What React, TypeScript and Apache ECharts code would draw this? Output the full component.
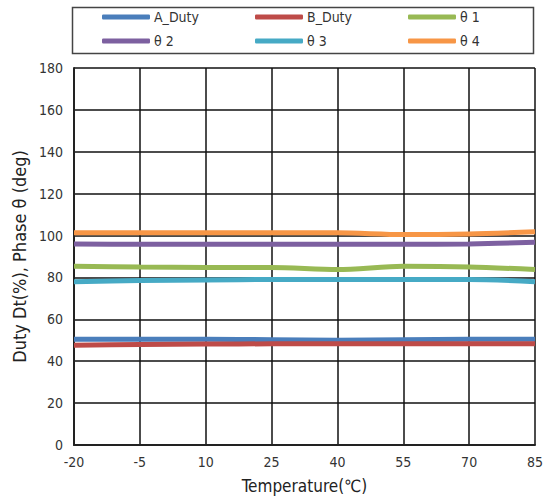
import React, { useEffect, useRef } from "react";
import * as echarts from "echarts";

const categories = ["-20", "-5", "10", "25", "40", "55", "70", "85"];
const aDuty = [50.5, 50.5, 50.5, 50.3, 50, 50.3, 50.5, 50.5];
const bDuty = [47.6, 48, 48.2, 48.3, 48.3, 48.3, 48.3, 48.3];
const theta1 = [85.4, 85, 84.8, 84.8, 83.8, 85.3, 85, 83.8];
const theta2 = [96, 95.8, 95.8, 95.8, 95.8, 95.8, 96, 96.8];
const theta3 = [78, 78.5, 78.8, 79, 79, 79, 79, 78];
const theta4 = [101.3, 101.3, 101.3, 101.3, 101.3, 100.5, 100.8, 101.8];

const seriesNames = ["A_Duty", "B_Duty", "θ 1", "θ 2", "θ 3", "θ 4"];
const seriesData = [aDuty, bDuty, theta1, theta2, theta3, theta4];
const colors = ["#4a7ebb", "#be4b48", "#98b954", "#7d60a0", "#46aac5", "#f79646"];

const FONT = "'DejaVu Sans Condensed', 'Liberation Sans Narrow', 'Liberation Sans', sans-serif";

export default function App() {
  const ref = useRef<HTMLDivElement>(null);
  useEffect(() => {
    if (!ref.current) return;
    const chart = echarts.init(ref.current, null, { renderer: "svg" });
    const legendPos = [
      [102, 10], [255, 10], [408, 10],
      [102, 34], [255, 34], [408, 34],
    ];
    chart.setOption({
      animation: false,
      backgroundColor: "#fff",
      textStyle: { fontFamily: FONT },
      graphic: [
        {
          type: "rect",
          shape: { x: 72.5, y: 7.5, width: 461, height: 46 },
          style: { fill: "none", stroke: "#444", lineWidth: 1.5 },
        },
      ],
      legend: seriesNames.map((n, i) => ({
        data: [n],
        left: legendPos[i][0],
        top: legendPos[i][1],
        icon: "roundRect",
        itemWidth: 48,
        itemHeight: 5,
        itemGap: 4,
        padding: 0,
        textStyle: { fontFamily: FONT, fontSize: 14, color: "#333", padding: [0, 0, 0, -1] },
      })),
      grid: { left: 74, right: 10, top: 68, bottom: 53, containLabel: false },
      xAxis: {
        type: "category",
        data: categories,
        boundaryGap: false,
        name: "Temperature(℃)",
        nameLocation: "middle",
        nameGap: 32,
        nameTextStyle: { fontFamily: FONT, fontSize: 17, color: "#222" },
        axisLine: { show: true, lineStyle: { color: "#222", width: 2 } },
        axisTick: { show: false },
        axisLabel: { fontFamily: FONT, fontSize: 14, color: "#333", margin: 10 },
        splitLine: { show: true, lineStyle: { color: "#111", width: 1.5 } },
      },
      yAxis: {
        type: "value",
        min: 0,
        max: 180,
        interval: 20,
        name: "Duty Dt(%), Phase θ (deg)",
        nameLocation: "middle",
        nameGap: 43,
        nameTextStyle: { fontFamily: FONT, fontSize: 18, color: "#222" },
        axisLine: { show: true, lineStyle: { color: "#222", width: 2 } },
        axisTick: { show: false },
        axisLabel: { fontFamily: FONT, fontSize: 14, color: "#333", margin: 11 },
        splitLine: { show: true, lineStyle: { color: "#111", width: 1.5 } },
      },
      series: seriesNames.map((n, i) => ({
        name: n,
        type: "line",
        data: seriesData[i],
        symbol: "none",
        smooth: 0.3,
        color: colors[i],
        lineStyle: { width: 5, color: colors[i] },
      })),
    });
    return () => chart.dispose();
  }, []);
  return <div ref={ref} style={{ width: 546, height: 499, position: "absolute", left: 0, top: 0 }} />;
}
